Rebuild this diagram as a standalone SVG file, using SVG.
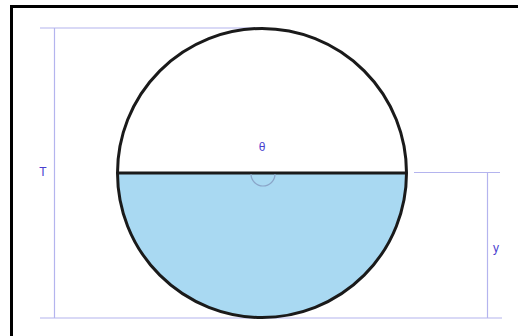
<svg xmlns="http://www.w3.org/2000/svg" width="518" height="336" viewBox="0 0 518 336">
<style>
.dim{stroke:#b4b4ee;stroke-width:1.2;fill:none}
.lbl{font-family:"Liberation Sans",Arial,sans-serif;font-size:12px;fill:#4a3fcf;text-anchor:middle}
.edge{stroke:#1a1a1a;stroke-width:3;fill:none}
</style>
<rect x="0" y="0" width="518" height="336" fill="#ffffff"/>
<path d="M11.5 340 V6.5 H522" fill="none" stroke="#000" stroke-width="3"/>
<g id="dimensions">
<path class="dim" d="M40 28 H262"/>
<path class="dim" d="M54.5 28 V318"/>
<path class="dim" d="M40 318 H502"/>
<path class="dim" d="M414 172.5 H500"/>
<path class="dim" d="M487.5 172.5 V318"/>
</g>
<g id="circle">
<path d="M118 173 A144 144 0 0 0 406 173 Z" fill="#a9d9f2"/>
<circle cx="262" cy="173" r="144.5" class="edge"/>
<line x1="118" y1="173" x2="406" y2="173" class="edge"/>
<path d="M251 174 A12 12 0 0 0 275 174" fill="none" stroke="#8aa5c8" stroke-width="1.2"/>
</g>
<g id="labels">
<text class="lbl" x="262" y="151">θ</text>
<text class="lbl" x="43" y="176">T</text>
<text class="lbl" x="496" y="252">y</text>
</g>
</svg>
